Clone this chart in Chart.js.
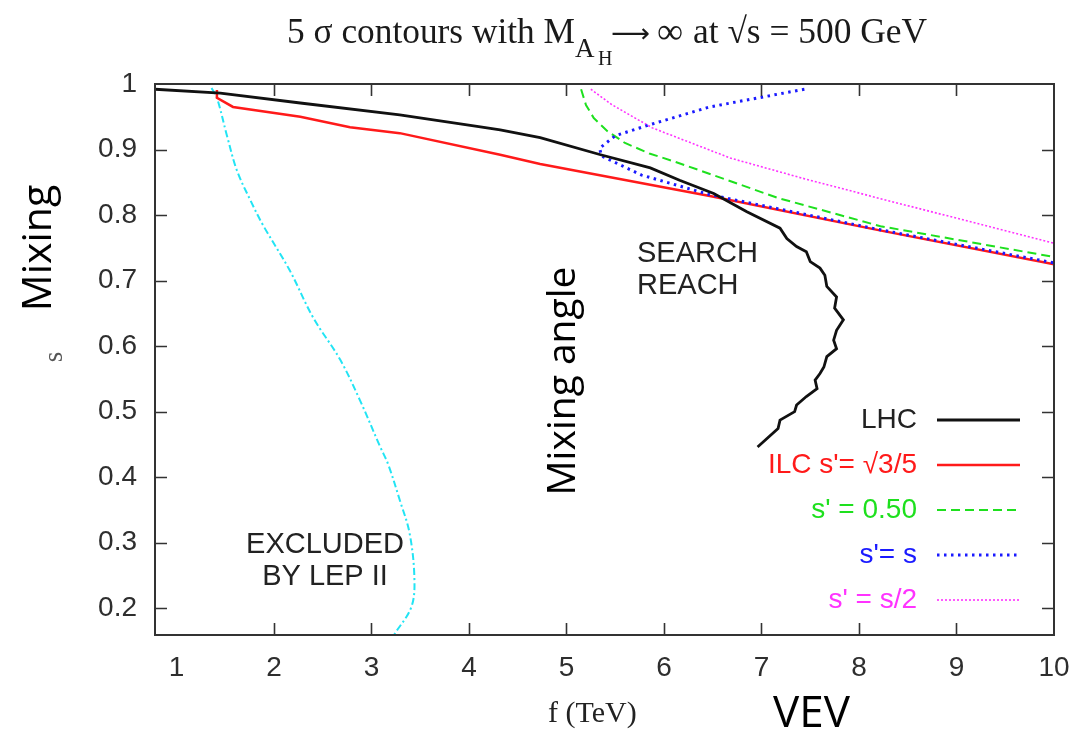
<!DOCTYPE html>
<html>
<head>
<meta charset="utf-8">
<script src="https://cdn.jsdelivr.net/npm/chart.js@4.4.1/dist/chart.umd.min.js"></script>
<style>
  html, body { margin: 0; padding: 0; background: #fff; }
  canvas { display: block; }
</style>
</head>
<body>
<canvas id="c" width="1074" height="729"></canvas>
<script>
// Axis ticks
const xTicks = [1, 2, 3, 4, 5, 6, 7, 8, 9, 10];
const yTicks = [0.2, 0.3, 0.4, 0.5, 0.6, 0.7, 0.8, 0.9, 1];

// LHC 5 sigma contour
const lhcF = [0.78, 1.45, 2.27, 3.29, 4.10, 4.32, 4.73, 5.35, 5.86, 6.16, 6.51, 6.85, 7.19, 7.26, 7.36, 7.46, 7.50, 7.60, 7.65, 7.67, 7.77, 7.75, 7.84, 7.77, 7.74, 7.77, 7.67, 7.64, 7.60, 7.55, 7.57, 7.46, 7.36, 7.34, 7.19, 7.17, 6.96];
const lhcS = [0.992, 0.986, 0.971, 0.953, 0.935, 0.930, 0.918, 0.892, 0.872, 0.853, 0.833, 0.805, 0.780, 0.764, 0.752, 0.744, 0.729, 0.719, 0.708, 0.691, 0.675, 0.658, 0.640, 0.624, 0.609, 0.596, 0.584, 0.568, 0.558, 0.548, 0.535, 0.523, 0.510, 0.500, 0.487, 0.474, 0.446];

// ILC, s' = sqrt(3/5)
const ilcF = [1.415, 1.415, 1.58, 2.27, 2.78, 3.29, 4.32, 4.73, 6.47, 8.2, 10];
const ilcS = [0.991, 0.979, 0.965, 0.950, 0.934, 0.925, 0.892, 0.878, 0.829, 0.777, 0.725];

// ILC, s' = 0.50
const halfF = [5.15, 5.20, 5.28, 5.42, 5.60, 5.85, 6.12, 6.6, 7.17, 8.22, 10];
const halfS = [0.992, 0.968, 0.948, 0.928, 0.910, 0.894, 0.881, 0.856, 0.826, 0.783, 0.736];

// ILC, s' = s
const eqF = [7.44, 6.47, 5.88, 5.50, 5.34, 5.36, 5.77, 6.47, 8.2, 10];
const eqS = [0.992, 0.965, 0.939, 0.921, 0.902, 0.890, 0.861, 0.831, 0.778, 0.727];

// ILC, s' = s/2
const sHalfF = [5.25, 5.46, 5.88, 6.68, 7.4, 8.22, 10];
const sHalfS = [0.992, 0.969, 0.933, 0.887, 0.857, 0.825, 0.757];

// LEP II exclusion boundary
const lepF = [1.36, 1.415, 1.52, 1.62, 1.76, 1.89, 2.16, 2.40, 2.68, 2.88, 3.09, 3.17, 3.29, 3.39, 3.44, 3.41, 3.23];
const lepS = [0.994, 0.979, 0.920, 0.868, 0.822, 0.784, 0.716, 0.644, 0.579, 0.518, 0.446, 0.420, 0.365, 0.315, 0.247, 0.202, 0.159];

const legendLabels = ["LHC", "ILC s'= \u221A3/5", "s' = 0.50", "s'= s", "s' = s/2"];

const pts = (xs, ys) => xs.map((x, i) => ({ x: x, y: ys[i] }));

const SANS = '"Liberation Sans", Arial, sans-serif';
const SERIF = '"Liberation Serif", "Times New Roman", serif';
const HAND = '"Open Sans", "Noto Sans", sans-serif';

const lineStyles = [
  { color: '#111111', width: 2.8, dash: [],            text: '#222222' },
  { color: '#ff1a1a', width: 2.5, dash: [],            text: '#ff1a1a' },
  { color: '#1ee01e', width: 2,   dash: [9, 5],        text: '#1ee01e' },
  { color: '#1a1aff', width: 3,   dash: [2.5, 4.5],    text: '#1a1aff' },
  { color: '#ff33ff', width: 1.6, dash: [2, 2],        text: '#ff33ff' }
];

function ds(label, data, st, order) {
  return {
    label: label, data: data, showLine: true, pointRadius: 0,
    borderColor: st.color, borderWidth: st.width, borderDash: st.dash,
    tension: 0, fill: false, order: order
  };
}

const datasets = [
  ds(legendLabels[0], pts(lhcF, lhcS), lineStyles[0], 0),
  ds(legendLabels[1], pts(ilcF, ilcS), lineStyles[1], 3),
  ds(legendLabels[2], pts(halfF, halfS), lineStyles[2], 2),
  ds(legendLabels[3], pts(eqF, eqS), lineStyles[3], 1),
  ds(legendLabels[4], pts(sHalfF, sHalfS), lineStyles[4], 2),
  {
    label: 'LEP II', data: pts(lepF, lepS), showLine: true, pointRadius: 0,
    borderColor: '#22e4f4', borderWidth: 2, borderDash: [7, 3, 2, 3],
    tension: 0.35, fill: false, order: 4
  }
];

const decorations = {
  id: 'decorations',
  afterDraw(chart) {
    const ctx = chart.ctx;
    const a = chart.chartArea;
    const xs = chart.scales.x, ys = chart.scales.y;
    ctx.save();

    // frame
    ctx.strokeStyle = '#333333';
    ctx.lineWidth = 2;
    ctx.setLineDash([]);
    ctx.strokeRect(a.left, a.top, a.right - a.left, a.bottom - a.top);

    // inward tick marks on all four sides
    const tl = 12;
    ctx.lineWidth = 1.6;
    ctx.beginPath();
    xTicks.forEach(v => {
      if (v <= 1 || v >= 10) return;
      const px = Math.round(xs.getPixelForValue(v)) + 0.5;
      ctx.moveTo(px, a.bottom); ctx.lineTo(px, a.bottom - tl);
      ctx.moveTo(px, a.top); ctx.lineTo(px, a.top + tl);
    });
    yTicks.forEach(v => {
      if (v >= 1) return;
      const py = Math.round(ys.getPixelForValue(v)) + 0.5;
      ctx.moveTo(a.left, py); ctx.lineTo(a.left + tl, py);
      ctx.moveTo(a.right, py); ctx.lineTo(a.right - tl, py);
    });
    ctx.stroke();

    // title with nested subscript and a long arrow
    ctx.fillStyle = '#1a1a1a';
    ctx.textBaseline = 'alphabetic';
    ctx.textAlign = 'left';
    const base = 43;
    const fitText = (txt, font, x0, x1, y) => {
      ctx.font = font;
      const w = ctx.measureText(txt).width;
      ctx.save();
      ctx.translate(x0, y);
      ctx.scale((x1 - x0) / w, 1);
      ctx.fillText(txt, 0, 0);
      ctx.restore();
    };
    fitText('5 \u03C3 contours with M', '36px ' + SERIF, 287, 575, base);
    ctx.font = '27px ' + SERIF;
    ctx.fillText('A', 575, base + 14);
    ctx.font = '20px ' + SERIF;
    ctx.fillText('H', 598, base + 22);
    fitText('\u27F6', '26px "DejaVu Sans"', 611, 650, base - 1);
    fitText('\u221E', '36px ' + SERIF, 657, 683, base);
    fitText('at \u221As = 500 GeV', '36px ' + SERIF, 693, 927, base);

    // legend
    ctx.font = '28px ' + SANS;
    ctx.textAlign = 'right';
    ctx.textBaseline = 'middle';
    legendLabels.forEach((lbl, i) => {
      const st = lineStyles[i];
      const y = 420 + i * 45;
      ctx.fillStyle = st.text;
      ctx.fillText(lbl, 917, y);
      ctx.strokeStyle = st.color;
      ctx.lineWidth = st.width;
      ctx.setLineDash(st.dash);
      ctx.beginPath();
      ctx.moveTo(937, y); ctx.lineTo(1020, y);
      ctx.stroke();
    });
    ctx.setLineDash([]);

    // region annotations
    ctx.fillStyle = '#222222';
    ctx.font = '29px ' + SANS;
    ctx.textBaseline = 'alphabetic';
    ctx.textAlign = 'left';
    ctx.fillText('SEARCH', 637, 262);
    ctx.fillText('REACH', 637, 294);
    ctx.textAlign = 'center';
    ctx.fillText('EXCLUDED', 325, 553);
    ctx.fillText('BY LEP II', 325, 585);

    // axis titles
    ctx.fillStyle = '#222222';
    ctx.font = '30px ' + SERIF;
    ctx.textAlign = 'left';
    ctx.fillText('f (TeV)', 548, 722);

    ctx.fillStyle = '#000000';
    ctx.font = '44px ' + HAND;
    ctx.fillText('VEV', 773, 727);

    const vtext = (txt, font, cx, cy, color) => {
      ctx.save();
      ctx.translate(cx, cy);
      ctx.rotate(-Math.PI / 2);
      ctx.font = font;
      ctx.fillStyle = color;
      ctx.textAlign = 'center';
      ctx.textBaseline = 'alphabetic';
      ctx.fillText(txt, 0, 0);
      ctx.restore();
    };
    vtext('Mixing', '41px ' + HAND, 51, 248, '#000000');
    vtext('s', '27px ' + SERIF, 62, 357, '#555555');
    vtext('Mixing angle', '39px ' + HAND, 575, 381, '#000000');

    ctx.restore();
  }
};

new Chart(document.getElementById('c'), {
  type: 'scatter',
  data: { datasets: datasets },
  options: {
    responsive: false,
    animation: false,
    devicePixelRatio: 1,
    layout: { padding: { top: 84, right: 20, left: 0, bottom: 0 } },
    plugins: { legend: { display: false }, tooltip: { enabled: false }, title: { display: false } },
    scales: {
      x: {
        type: 'linear', min: 0.78, max: 10,
        afterBuildTicks: s => { s.ticks = xTicks.map(v => ({ value: v })); },
        afterFit: s => { s.height = 94; s.paddingLeft = 0; s.paddingRight = 0; },
        grid: { display: false, drawTicks: false },
        border: { display: false },
        ticks: {
          autoSkip: false, maxRotation: 0, padding: 16,
          color: '#2e2e2e', font: { family: SANS, size: 28 },
          callback: v => String(v)
        }
      },
      y: {
        type: 'linear', min: 0.159, max: 1,
        afterBuildTicks: s => { s.ticks = yTicks.map(v => ({ value: v })); },
        afterFit: s => { s.width = 155; s.paddingTop = 0; s.paddingBottom = 0; },
        grid: { display: false, drawTicks: false },
        border: { display: false },
        ticks: {
          autoSkip: false, padding: 18,
          color: '#2e2e2e', font: { family: SANS, size: 28 },
          callback: v => String(v)
        }
      }
    }
  },
  plugins: [decorations]
});
</script>
</body>
</html>
